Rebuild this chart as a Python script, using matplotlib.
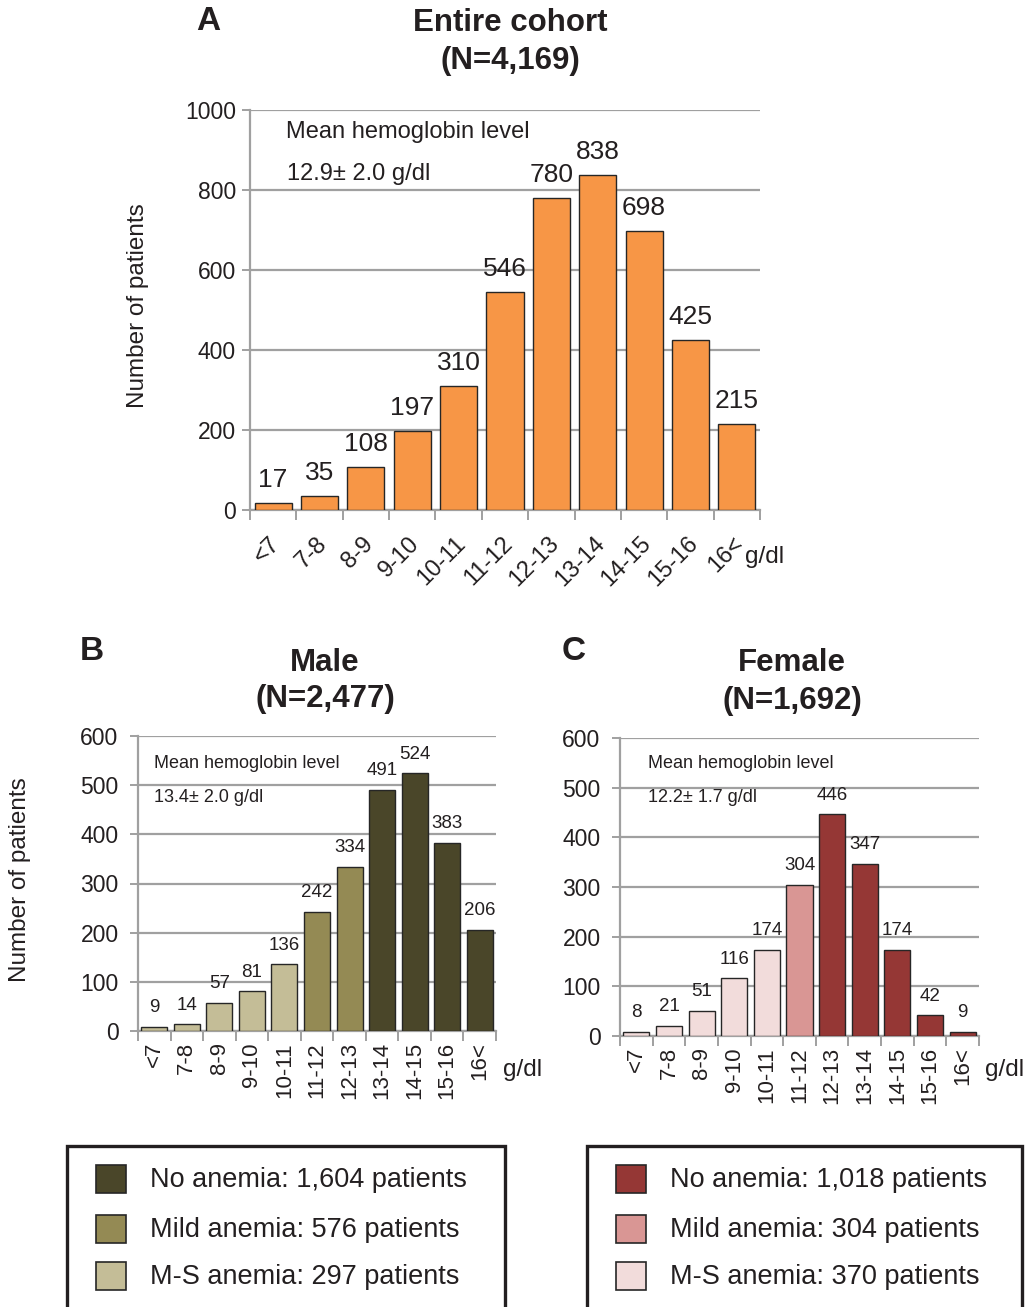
import matplotlib.pyplot as plt
from matplotlib.patches import Rectangle
from matplotlib.transforms import ScaledTranslation

plt.rcParams['font.family'] = ['Liberation Sans', 'DejaVu Sans']

# hemoglobin bins (g/dl) and patient counts
bins = ['<7', '7-8', '8-9', '9-10', '10-11', '11-12', '12-13', '13-14', '14-15', '15-16', '16<']
entire = [17, 35, 108, 197, 310, 546, 780, 838, 698, 425, 215]
male = [9, 14, 57, 81, 136, 242, 334, 491, 524, 383, 206]
female = [8, 21, 51, 116, 174, 304, 446, 347, 174, 42, 9]

# anemia group of each bin: 0 = M-S anemia, 1 = mild anemia, 2 = no anemia
male_group = [0, 0, 0, 0, 0, 1, 1, 2, 2, 2, 2]
female_group = [0, 0, 0, 0, 0, 1, 2, 2, 2, 2, 2]
group_names = ['M-S anemia', 'Mild anemia', 'No anemia']

mean_entire = '12.9\u00b1 2.0 g/dl'
mean_male = '13.4\u00b1 2.0 g/dl'
mean_female = '12.2\u00b1 1.7 g/dl'

orange = '#F79646'
male_colors = ['#C4BD97', '#948A54', '#4A4629']
female_colors = ['#F2DCDB', '#D99694', '#953735']

TXT = '#231F20'
GRID = '#A0A0A0'
EDGE = '#262626'

W, H = 1028, 1307
DPI = 100
fig = plt.figure(figsize=(W / DPI, H / DPI), dpi=DPI)


def fx(x):
    return x / W


def fy(y):
    return 1 - y / H


def add_ax(left, top, right, bottom):
    return fig.add_axes([fx(left), fy(bottom), (right - left) / W, (bottom - top) / H])


def draw_panel(ax, values, colors, ymax, step, val_size, val_off, rot, xsize, pad, xshift, ypad):
    x = list(range(len(values)))
    ax.bar(x, values, width=0.8, color=colors, edgecolor=EDGE, linewidth=1, zorder=3)
    for xi, v in zip(x, values):
        ax.annotate(str(v), (xi, v), xytext=(0, val_off), textcoords='offset points',
                    ha='center', va='baseline', fontsize=val_size, color=TXT, zorder=4)
    ax.set_xlim(-0.5, len(values) - 0.5)
    ax.set_ylim(0, ymax)
    ax.set_yticks(range(0, ymax + 1, step))
    ax.yaxis.grid(True, color=GRID, linewidth=1.6, zorder=0)
    ax.set_axisbelow(True)
    for s in ['top', 'right']:
        ax.spines[s].set_visible(False)
    for s in ['left', 'bottom']:
        ax.spines[s].set_color(GRID)
        ax.spines[s].set_linewidth(1.6)
    ax.tick_params(axis='y', length=6, width=1.4, color=GRID, labelsize=16.5,
                   labelcolor=TXT, pad=ypad)
    # labels at bar centres, tick marks at bin boundaries
    ax.set_xticks(x)
    ax.set_xticklabels(bins, rotation=rot, ha='right', va='center',
                       rotation_mode='anchor', fontsize=xsize, color=TXT)
    ax.set_xticks([i - 0.5 for i in range(len(values) + 1)], minor=True)
    ax.tick_params(axis='x', which='major', length=0, pad=pad)
    ax.tick_params(axis='x', which='minor', length=7, width=1.4, color=GRID)
    off = ScaledTranslation(xshift / DPI, 0, fig.dpi_scale_trans)
    for lab in ax.get_xticklabels():
        lab.set_transform(lab.get_transform() + off)


def ftext(x, y, s, **kw):
    kw.setdefault('color', TXT)
    fig.text(fx(x), fy(y), s, **kw)


# ---- panel A
axA = add_ax(250, 110, 760, 510)
draw_panel(axA, entire, orange, 1000, 200, 19, 11.5, 45, 17, 22, 4, 4)
ftext(208, 22, 'A', fontsize=24, fontweight='bold', ha='center', va='center')
ftext(510, 23, 'Entire cohort', fontsize=22.5, fontweight='bold', ha='center', va='center')
ftext(510, 61, f'(N={sum(entire):,})', fontsize=22.5, fontweight='bold', ha='center', va='center')
ftext(138, 306, 'Number of patients', fontsize=17.5, rotation=90, ha='center', va='center')
ftext(286, 132, 'Mean hemoglobin level', fontsize=17, ha='left', va='center')
ftext(287, 174, mean_entire, fontsize=17, ha='left', va='center')
ftext(745, 557, 'g/dl', fontsize=17.5, ha='left', va='center')

# ---- panel B
axB = add_ax(138, 736, 496, 1031)
draw_panel(axB, male, [male_colors[g] for g in male_group], 600, 100, 13.5, 10.5, 90, 16, 8, 0, 8)
ftext(92, 652, 'B', fontsize=24, fontweight='bold', ha='center', va='center')
ftext(325, 663, 'Male', fontsize=22.5, fontweight='bold', ha='center', va='center')
ftext(325, 699, f'(N={sum(male):,})', fontsize=22.5, fontweight='bold', ha='center', va='center')
ftext(20, 880, 'Number of patients', fontsize=17.5, rotation=90, ha='center', va='center')
ftext(154, 764, 'Mean hemoglobin level', fontsize=13, ha='left', va='center')
ftext(154, 797, mean_male, fontsize=13, ha='left', va='center')
ftext(503, 1070, 'g/dl', fontsize=17.5, ha='left', va='center')

# ---- panel C
axC = add_ax(620, 738, 979, 1036)
draw_panel(axC, female, [female_colors[g] for g in female_group], 600, 100, 13.5, 10.5, 90, 16, 8, 0, 8)
ftext(574, 652, 'C', fontsize=24, fontweight='bold', ha='center', va='center')
ftext(792, 663, 'Female', fontsize=22.5, fontweight='bold', ha='center', va='center')
ftext(792, 701, f'(N={sum(female):,})', fontsize=22.5, fontweight='bold', ha='center', va='center')
ftext(648, 764, 'Mean hemoglobin level', fontsize=13, ha='left', va='center')
ftext(648, 797, mean_female, fontsize=13, ha='left', va='center')
ftext(985, 1070, 'g/dl', fontsize=17.5, ha='left', va='center')


# ---- legend boxes
def legend_box(left, right, values, groups, colors):
    fig.add_artist(Rectangle((fx(left), fy(1340)), (right - left) / W, (1340 - 1146) / H,
                             transform=fig.transFigure, fill=False, edgecolor=TXT, linewidth=2.4))
    rows = [1180, 1230, 1277]
    for row, g in zip(rows, [2, 1, 0]):
        count = sum(v for v, gg in zip(values, groups) if gg == g)
        fig.add_artist(Rectangle((fx(left + 29), fy(row + 13)), 30 / W, 28 / H,
                                 transform=fig.transFigure, facecolor=colors[g],
                                 edgecolor=EDGE, linewidth=1.2))
        ftext(left + 83, row, f'{group_names[g]}: {count:,} patients', fontsize=19.5,
              ha='left', va='center')


legend_box(67, 505, male, male_group, male_colors)
legend_box(587, 1022, female, female_group, female_colors)

fig.savefig('out.png', dpi=DPI, facecolor='white')
